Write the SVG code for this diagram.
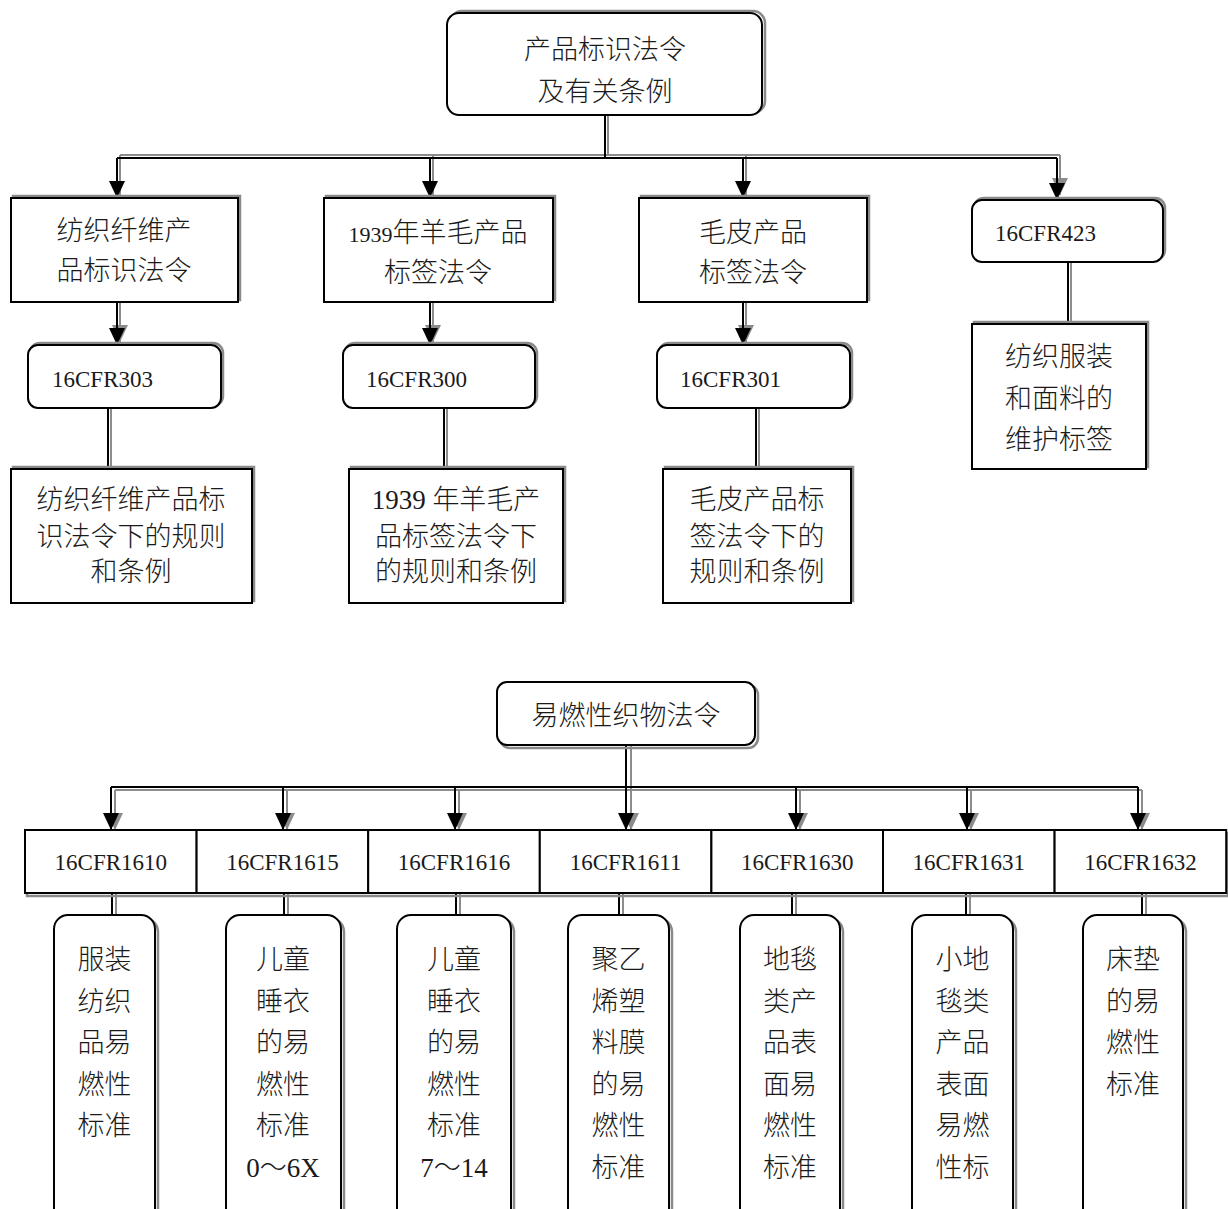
<svg xmlns="http://www.w3.org/2000/svg" width="1228" height="1209" viewBox="0 0 1228 1209">
<style>
.box{fill:#fff;stroke:#000;stroke-width:2}
.sh{fill:none;stroke:#8a8a8a;stroke-width:2.5}
.t{font-family:"Liberation Serif","Noto Sans CJK SC",serif;font-size:27px;font-weight:300;fill:#1a1a1a;text-anchor:middle}
.c{font-family:"Liberation Serif",serif;font-size:23px;fill:#1a1a1a}
.cm{text-anchor:middle}
.ln{stroke:#000;stroke-width:2;fill:none}
.lg{stroke:#8c8c8c;stroke-width:2;fill:none}
</style>
<defs>
<marker id="ah" viewBox="0 0 17 16" refX="17" refY="8" markerWidth="17" markerHeight="16" orient="auto" markerUnits="userSpaceOnUse"><path d="M0,0 L17,8 L0,16 z" fill="#000"/></marker>
<marker id="ahg" viewBox="0 0 17 16" refX="17" refY="8" markerWidth="17" markerHeight="16" orient="auto" markerUnits="userSpaceOnUse"><path d="M0,0 L17,8 L0,16 z" fill="#8c8c8c"/></marker>
</defs>
<rect width="1228" height="1209" fill="#fff"/>
<g id="connectors">
  <path class="lg" d="M608,115 V155 M120,155 H1060"/>
  <path class="lg" d="M120,155 V195 M433,155 V195 M746,155 V195 M1060,155 V195" marker-end="url(#ahg)"/>
  <path class="lg" d="M120,302 V342" marker-end="url(#ahg)"/>
  <path class="lg" d="M433,302 V342" marker-end="url(#ahg)"/>
  <path class="lg" d="M746,302 V342" marker-end="url(#ahg)"/>
  <path class="lg" d="M111,408 V466 M447,408 V466 M759,408 V466 M1071,262 V321"/>
  <path class="ln" d="M605,115 V158 M117,158 H1057"/>
  <path class="ln" d="M117,158 V198" marker-end="url(#ah)"/>
  <path class="ln" d="M430,158 V198" marker-end="url(#ah)"/>
  <path class="ln" d="M743,158 V198" marker-end="url(#ah)"/>
  <path class="ln" d="M1057,158 V200" marker-end="url(#ah)"/>
  <path class="ln" d="M117,302 V345" marker-end="url(#ah)"/>
  <path class="ln" d="M430,302 V345" marker-end="url(#ah)"/>
  <path class="ln" d="M743,302 V345" marker-end="url(#ah)"/>
  <path class="ln" d="M108,408 V469 M444,408 V469 M756,408 V469 M1068,262 V324"/>
  <path class="lg" d="M631,745 V830" marker-end="url(#ahg)"/>
  <path class="lg" d="M115,790 H1142"/>
  <path class="lg" d="M115,790 V830" marker-end="url(#ahg)"/>
  <path class="lg" d="M287,790 V830" marker-end="url(#ahg)"/>
  <path class="lg" d="M459,790 V830" marker-end="url(#ahg)"/>
  <path class="lg" d="M800,790 V830" marker-end="url(#ahg)"/>
  <path class="lg" d="M971,790 V830" marker-end="url(#ahg)"/>
  <path class="lg" d="M1142,790 V830" marker-end="url(#ahg)"/>
  <path class="lg" d="M116,893 V915 M288,893 V915 M460,893 V915 M623,893 V915 M796,893 V915 M970,893 V915 M1146,893 V915"/>
  <path class="ln" d="M111,787 H1138"/>
  <path class="ln" d="M626,745 V830" marker-end="url(#ah)"/>
  <path class="ln" d="M111,787 V830" marker-end="url(#ah)"/>
  <path class="ln" d="M283,787 V830" marker-end="url(#ah)"/>
  <path class="ln" d="M455,787 V830" marker-end="url(#ah)"/>
  <path class="ln" d="M796,787 V830" marker-end="url(#ah)"/>
  <path class="ln" d="M967,787 V830" marker-end="url(#ah)"/>
  <path class="ln" d="M1138,787 V830" marker-end="url(#ah)"/>
  <path class="ln" d="M112,893 V915 M284,893 V915 M456,893 V915 M619,893 V915 M792,893 V915 M966,893 V915 M1142,893 V915"/>
</g>

<g id="n-root">
  <rect class="sh" x="450" y="11" width="315" height="102" rx="12"/>
  <rect class="box" x="447" y="13" width="315" height="102" rx="12"/>
  <text class="t" x="605" y="59">产品标识法令</text>
  <text class="t" x="605" y="101">及有关条例</text>
</g>
<g id="n-textile-act">
  <rect class="sh" x="13" y="196" width="227" height="104"/>
  <rect class="box" x="11" y="198" width="227" height="104"/>
  <text class="t" x="124" y="240">纺织纤维产</text>
  <text class="t" x="124" y="280">品标识法令</text>
</g>
<g id="n-wool-act">
  <rect class="sh" x="326" y="196" width="229" height="104"/>
  <rect class="box" x="324" y="198" width="229" height="104"/>
  <text class="t" x="438" y="242"><tspan font-size="22">1939</tspan>年羊毛产品</text>
  <text class="t" x="438" y="282">标签法令</text>
</g>
<g id="n-fur-act">
  <rect class="sh" x="641" y="196" width="228" height="104"/>
  <rect class="box" x="639" y="198" width="228" height="104"/>
  <text class="t" x="753" y="242">毛皮产品</text>
  <text class="t" x="753" y="282">标签法令</text>
</g>
<g id="n-cfr423">
  <rect class="sh" x="974" y="198" width="191" height="62" rx="10"/>
  <rect class="box" x="972" y="200" width="191" height="62" rx="10"/>
  <text class="c" x="995" y="241">16CFR423</text>
</g>
<g id="n-cfr303">
  <rect class="sh" x="30" y="343" width="193" height="63" rx="10"/>
  <rect class="box" x="28" y="345" width="193" height="63" rx="10"/>
  <text class="c" x="52" y="387">16CFR303</text>
</g>
<g id="n-cfr300">
  <rect class="sh" x="345" y="343" width="192" height="63" rx="10"/>
  <rect class="box" x="343" y="345" width="192" height="63" rx="10"/>
  <text class="c" x="366" y="387">16CFR300</text>
</g>
<g id="n-cfr301">
  <rect class="sh" x="659" y="343" width="193" height="63" rx="10"/>
  <rect class="box" x="657" y="345" width="193" height="63" rx="10"/>
  <text class="c" x="680" y="387">16CFR301</text>
</g>
<g id="n-textile-rules">
  <rect class="sh" x="13" y="467" width="241" height="134"/>
  <rect class="box" x="11" y="469" width="241" height="134"/>
  <text class="t" x="131" y="509">纺织纤维产品标</text>
  <text class="t" x="131" y="546">识法令下的规则</text>
  <text class="t" x="131" y="581">和条例</text>
</g>
<g id="n-wool-rules">
  <rect class="sh" x="351" y="467" width="214" height="134"/>
  <rect class="box" x="349" y="469" width="214" height="134"/>
  <text class="t" x="456" y="509">1939 年羊毛产</text>
  <text class="t" x="456" y="546">品标签法令下</text>
  <text class="t" x="456" y="581">的规则和条例</text>
</g>
<g id="n-fur-rules">
  <rect class="sh" x="665" y="467" width="188" height="134"/>
  <rect class="box" x="663" y="469" width="188" height="134"/>
  <text class="t" x="757" y="509">毛皮产品标</text>
  <text class="t" x="757" y="546">签法令下的</text>
  <text class="t" x="757" y="581">规则和条例</text>
</g>
<g id="n-care-label">
  <rect class="sh" x="974" y="322" width="174" height="145"/>
  <rect class="box" x="972" y="324" width="174" height="145"/>
  <text class="t" x="1059" y="366">纺织服装</text>
  <text class="t" x="1059" y="408">和面料的</text>
  <text class="t" x="1059" y="449">维护标签</text>
</g>

<g id="n-flammable">
  <rect class="sh" x="500" y="685" width="258" height="63" rx="10"/>
  <rect class="box" x="497" y="682" width="258" height="63" rx="10"/>
  <text class="t" x="626" y="725">易燃性织物法令</text>
</g>
<g id="row-shadow"><rect class="sh" x="27" y="833" width="1201" height="63"/></g>
<g id="n-1610">
  <rect class="box" x="25" y="830" width="171.6" height="63"/>
  <text class="c cm" x="110.8" y="870">16CFR1610</text>
</g>
<g id="n-1615">
  <rect class="box" x="196.6" y="830" width="171.6" height="63"/>
  <text class="c cm" x="282.4" y="870">16CFR1615</text>
</g>
<g id="n-1616">
  <rect class="box" x="368.2" y="830" width="171.6" height="63"/>
  <text class="c cm" x="454" y="870">16CFR1616</text>
</g>
<g id="n-1611">
  <rect class="box" x="539.8" y="830" width="171.6" height="63"/>
  <text class="c cm" x="625.6" y="870">16CFR1611</text>
</g>
<g id="n-1630">
  <rect class="box" x="711.4" y="830" width="171.6" height="63"/>
  <text class="c cm" x="797.2" y="870">16CFR1630</text>
</g>
<g id="n-1631">
  <rect class="box" x="883" y="830" width="171.6" height="63"/>
  <text class="c cm" x="968.8" y="870">16CFR1631</text>
</g>
<g id="n-1632">
  <rect class="box" x="1054.6" y="830" width="171.6" height="63"/>
  <text class="c cm" x="1140.4" y="870">16CFR1632</text>
</g>

<g id="n-apparel">
  <rect class="sh" x="57" y="918" width="101" height="310" rx="14"/>
  <rect class="box" x="54" y="915" width="101" height="310" rx="14"/>
  <text class="t" x="104.5" y="969">服装</text>
  <text class="t" x="104.5" y="1011">纺织</text>
  <text class="t" x="104.5" y="1052">品易</text>
  <text class="t" x="104.5" y="1094">燃性</text>
  <text class="t" x="104.5" y="1135">标准</text>
</g>
<g id="n-sleep-0-6x">
  <rect class="sh" x="229" y="918" width="115" height="310" rx="14"/>
  <rect class="box" x="226" y="915" width="115" height="310" rx="14"/>
  <text class="t" x="283" y="969">儿童</text>
  <text class="t" x="283" y="1011">睡衣</text>
  <text class="t" x="283" y="1052">的易</text>
  <text class="t" x="283" y="1094">燃性</text>
  <text class="t" x="283" y="1135">标准</text>
  <text class="t" x="283" y="1177">0～6X</text>
</g>
<g id="n-sleep-7-14">
  <rect class="sh" x="400" y="918" width="114" height="310" rx="14"/>
  <rect class="box" x="397" y="915" width="114" height="310" rx="14"/>
  <text class="t" x="454" y="969">儿童</text>
  <text class="t" x="454" y="1011">睡衣</text>
  <text class="t" x="454" y="1052">的易</text>
  <text class="t" x="454" y="1094">燃性</text>
  <text class="t" x="454" y="1135">标准</text>
  <text class="t" x="454" y="1177">7～14</text>
</g>
<g id="n-pe-film">
  <rect class="sh" x="571" y="918" width="101" height="310" rx="14"/>
  <rect class="box" x="568" y="915" width="101" height="310" rx="14"/>
  <text class="t" x="618.5" y="969">聚乙</text>
  <text class="t" x="618.5" y="1011">烯塑</text>
  <text class="t" x="618.5" y="1052">料膜</text>
  <text class="t" x="618.5" y="1094">的易</text>
  <text class="t" x="618.5" y="1135">燃性</text>
  <text class="t" x="618.5" y="1177">标准</text>
</g>
<g id="n-carpet">
  <rect class="sh" x="743" y="918" width="100" height="310" rx="14"/>
  <rect class="box" x="740" y="915" width="100" height="310" rx="14"/>
  <text class="t" x="790" y="969">地毯</text>
  <text class="t" x="790" y="1011">类产</text>
  <text class="t" x="790" y="1052">品表</text>
  <text class="t" x="790" y="1094">面易</text>
  <text class="t" x="790" y="1135">燃性</text>
  <text class="t" x="790" y="1177">标准</text>
</g>
<g id="n-rug">
  <rect class="sh" x="915" y="918" width="101" height="310" rx="14"/>
  <rect class="box" x="912" y="915" width="101" height="310" rx="14"/>
  <text class="t" x="962.5" y="969">小地</text>
  <text class="t" x="962.5" y="1011">毯类</text>
  <text class="t" x="962.5" y="1052">产品</text>
  <text class="t" x="962.5" y="1094">表面</text>
  <text class="t" x="962.5" y="1135">易燃</text>
  <text class="t" x="962.5" y="1177">性标</text>
</g>
<g id="n-mattress">
  <rect class="sh" x="1086" y="918" width="100" height="310" rx="14"/>
  <rect class="box" x="1083" y="915" width="100" height="310" rx="14"/>
  <text class="t" x="1133" y="969">床垫</text>
  <text class="t" x="1133" y="1011">的易</text>
  <text class="t" x="1133" y="1052">燃性</text>
  <text class="t" x="1133" y="1094">标准</text>
</g>
</svg>
